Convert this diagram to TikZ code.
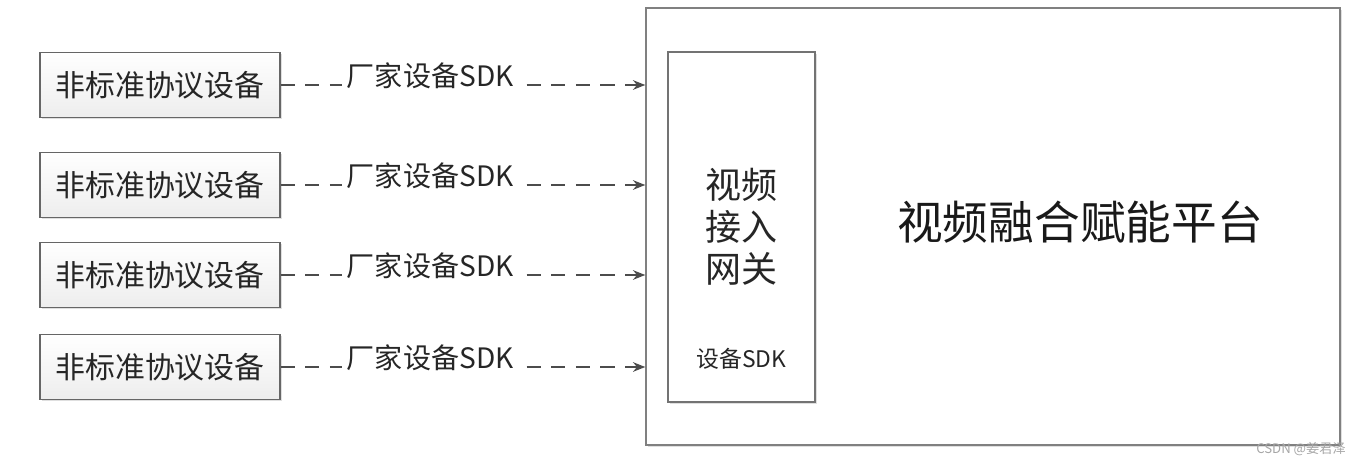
\documentclass[tikz,border=0pt]{standalone}
\usepackage{fontspec}
\setmainfont{Noto Sans CJK SC}
\usetikzlibrary{shadows,arrows.meta}
\tikzset{
  softshadow/.style={drop shadow={shadow xshift=0.9pt,shadow yshift=-0.9pt,opacity=0.25}},
  platbox/.style={draw=black!50,line width=0.9pt,fill=white,minimum width=13.88cm,minimum height=8.74cm,softshadow},
  gwbox/.style={draw=black!55,line width=0.9pt,fill=white,minimum width=2.94cm,minimum height=7cm,softshadow},
  devbox/.style={draw=black!60,line width=0.8pt,top color=white,bottom color=black!7,minimum width=4.8cm,minimum height=1.3cm,text=black!85,font=\fontsize{17}{20}\selectfont,softshadow},
  sdklink/.style={black!70,line width=0.9pt,dash pattern=on 8pt off 6pt,-{Stealth[length=7pt,width=5.5pt]}},
  sdklabel/.style={fill=white,text=black!85,inner xsep=3pt,inner ysep=1.2pt,font=\fontsize{16}{18}\selectfont,yshift=5.5pt}
}
\begin{document}
\begin{tikzpicture}[x=0.02cm,y=-0.02cm]
\useasboundingbox (0,0) rectangle (1366,466);
\node[platbox] (plat) at (993,226.5) {};
\node[text=black!90,font=\fontsize{26}{30}\selectfont] (platname) at (1080,222) {视频融合赋能平台};
\node[gwbox] (gw) at (741.5,227) {};
\node[align=center,text=black!85,font=\fontsize{20.5}{24}\selectfont] (gwname) at (741.5,227) {视频\\接入\\网关};
\node[text=black!85,font=\fontsize{13}{15}\selectfont] (gwsdk) at (741.5,359) {设备SDK};
\foreach \i/\y in {1/85,2/185,3/275,4/367} {
  \node[devbox] (dev\i) at (160,\y) {非标准协议设备};
  \draw[sdklink] (dev\i.east) -- node[sdklabel,pos=0.41] {厂家设备SDK} (dev\i.east -| plat.west);
}
\node[text=black!35,font=\fontsize{7.5}{9}\selectfont] (mark) at (1301,449) {CSDN @姜君泽};
\end{tikzpicture}
\end{document}
